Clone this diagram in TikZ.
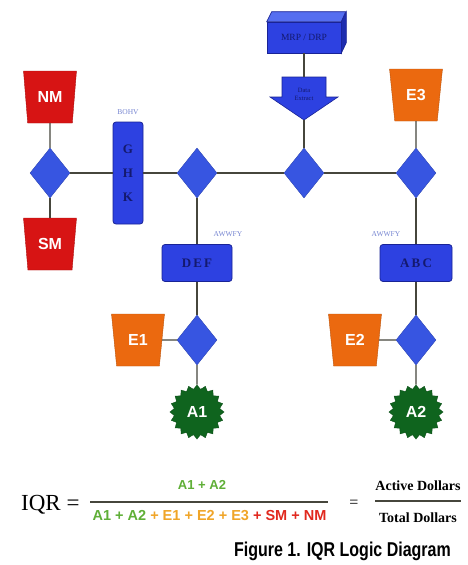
\documentclass[tikz,border=0pt]{standalone}
\usepackage{fontspec}
\usepackage{graphicx}
\setmainfont{Liberation Serif}
\setsansfont{Liberation Sans}
\usetikzlibrary{shapes.geometric}
\definecolor{dblue}{RGB}{55,85,225}
\definecolor{bblue}{RGB}{45,65,225}
\definecolor{bedge}{RGB}{25,35,150}
\definecolor{btop}{RGB}{85,110,240}
\definecolor{bside}{RGB}{30,45,175}
\definecolor{navy}{RGB}{20,25,110}
\definecolor{lblue}{RGB}{120,135,210}
\definecolor{nred}{RGB}{215,20,20}
\definecolor{eorange}{RGB}{235,105,15}
\definecolor{agreen}{RGB}{15,100,30}
\definecolor{lgreen}{RGB}{95,175,55}
\definecolor{lorange}{RGB}{240,165,40}
\definecolor{lred}{RGB}{225,40,30}
\definecolor{wire}{RGB}{70,70,60}
\begin{document}
\begin{tikzpicture}[x=1pt,y=-1pt,
  dia/.style={diamond,fill=dblue,draw=dblue!80!black,line width=0.4pt,minimum width=40pt,minimum height=50pt,inner sep=0pt},
  trap/.style={trapezium,shape border rotate=180,trapezium stretches=true,trapezium left angle=78,trapezium right angle=78,minimum width=53pt,minimum height=52pt,inner sep=0pt,font=\sffamily\bfseries\fontsize{16}{16}\selectfont,text=white},
  redtrap/.style={trap,fill=nred,draw=nred!80!black},
  orgtrap/.style={trap,fill=eorange,draw=eorange!80!black},
  boxb/.style={rectangle,rounded corners=3pt,fill=bblue,draw=bedge,line width=0.8pt,text=navy,font=\bfseries\fontsize{13}{13}\selectfont,inner sep=0pt},
  starb/.style={star,star points=20,star point ratio=1.18,fill=agreen,draw=agreen!80!black,minimum size=54pt,inner sep=0pt,text=white,font=\sffamily\bfseries\fontsize{16}{16}\selectfont},
  lab/.style={text=lblue,font=\fontsize{7.5}{7.5}\selectfont,inner sep=0pt},
  wireln/.style={draw=wire,line width=1.1pt}
]
\useasboundingbox (0,0) rectangle (468,565);
\fill[white] (0,0) rectangle (468,565);

% left group
\node[redtrap] (nm) at (50,97) {NM};
\node[dia] (d1) at (50,173) {};
\node[redtrap] (sm) at (50,244) {SM};
\node[boxb,minimum width=30pt,minimum height=102pt,align=center,font=\bfseries\fontsize{13}{24}\selectfont] (ghk) at (128,173) {G\\H\\K};
\node[lab] (lbohv) at (128,112) {BOHV};

% diamonds on main line
\node[dia] (d2) at (197,173) {};
\node[dia] (d3) at (304,173) {};
\node[dia] (d4) at (416,173) {};
\node[orgtrap] (e3) at (416,95) {E3};

% MRP/DRP 3D box
\node[rectangle,fill=bblue,draw=bedge,line width=0.6pt,minimum width=74pt,minimum height=31pt,inner sep=0pt,text=navy,font=\fontsize{9.5}{9.5}\selectfont] (mrp) at (304,37.5) {MRP / DRP};
\filldraw[fill=btop,draw=bedge,line width=0.6pt] (mrp.north west) -- ++(5,-10) -- ++(74,0) -- (mrp.north east) -- cycle;
\filldraw[fill=bside,draw=bedge,line width=0.6pt] (mrp.north east) -- ++(5,-10) -- ++(0,31) -- (mrp.south east) -- cycle;

% Data Extract arrow
\filldraw[fill=bblue,draw=bedge,line width=0.6pt] (282,77) -- (326,77) -- (326,97) -- (338,97) -- (304,120) -- (270,97) -- (282,97) -- cycle;
\coordinate (dxtop) at (304,77);
\coordinate (dxtip) at (304,120);
\node[text=navy,font=\fontsize{6.5}{8}\selectfont,align=center,inner sep=0pt] (dx) at (304,94) {Data\\Extract};

% left branch
\node[boxb,minimum width=70pt,minimum height=37pt] (def) at (197,263) {D\,E\,F};
\node[lab] (lawl) at (228,234) {AWWFY};
\node[dia] (d5) at (197,340) {};
\node[orgtrap] (e1) at (138,340) {E1};
\node[starb] (a1) at (197,412) {A1};

% right branch
\node[boxb,minimum width=72pt,minimum height=37pt] (abc) at (416,263) {A\,B\,C};
\node[lab] (lawr) at (386,234) {AWWFY};
\node[dia] (d6) at (416,340) {};
\node[orgtrap] (e2) at (355,340) {E2};
\node[starb] (a2) at (416,412) {A2};

% connectors
\draw[wireln] (nm) -- (d1);
\draw[wireln] (d1) -- (sm);
\draw[wireln] (d1) -- (ghk);
\draw[wireln] (ghk) -- (d2);
\draw[wireln] (d2) -- (d3);
\draw[wireln] (d3) -- (d4);
\draw[wireln] (e3) -- (d4);
\draw[wireln] (mrp.south) -- (dxtop);
\draw[wireln] (dxtip) -- (d3);
\draw[wireln] (d2) -- (def);
\draw[wireln] (def) -- (d5);
\draw[wireln] (e1) -- (d5);
\draw[wireln] (d5) -- (a1);
\draw[wireln] (d4) -- (abc);
\draw[wireln] (abc) -- (d6);
\draw[wireln] (e2) -- (d6);
\draw[wireln] (d6) -- (a2);

% formula
\node[anchor=base west,inner sep=0pt,font=\fontsize{23}{23}\selectfont] (iqr) at (21,510) {IQR =};
\draw[draw=wire,line width=1.4pt] (90,502) -- (328,502);
\node[anchor=base,inner sep=0pt,font=\sffamily\bfseries\fontsize{13}{13}\selectfont,text=lgreen] (num) at (202,489) {A1 + A2};
\node[anchor=base,inner sep=0pt,font=\sffamily\bfseries\fontsize{14.5}{14.5}\selectfont] (den) at (209.5,520) {\textcolor{lgreen}{A1 + A2} \textcolor{lorange}{+ E1 + E2 + E3} \textcolor{lred}{+ SM + NM}};
\node[inner sep=0pt,font=\fontsize{16}{16}\selectfont] (eq2) at (354,504) {=};
\draw[draw=wire,line width=1.2pt] (375,501) -- (461,501);
\node[anchor=base,inner sep=0pt,font=\bfseries\fontsize{14}{14}\selectfont] (act) at (418,490) {Active Dollars};
\node[anchor=base,inner sep=0pt,font=\bfseries\fontsize{14}{14}\selectfont] (tot) at (418,522) {Total Dollars};
\node[anchor=base east,inner sep=0pt] (cap) at (451,556) {\scalebox{0.8}[1]{\sffamily\bfseries\fontsize{20}{20}\selectfont Figure 1. IQR Logic Diagram}};
\end{tikzpicture}
\end{document}
